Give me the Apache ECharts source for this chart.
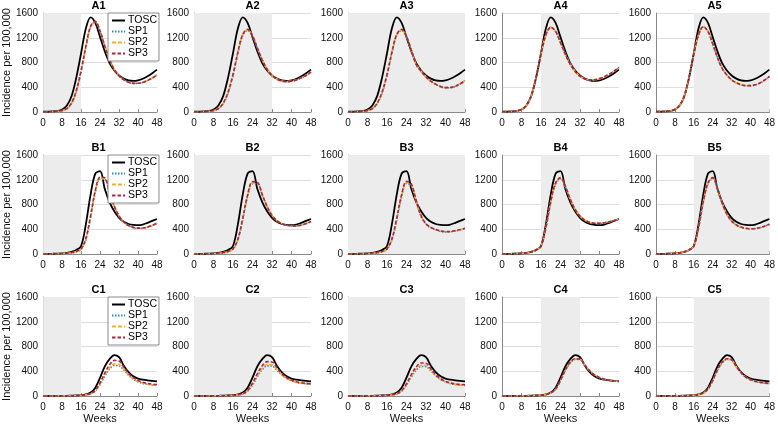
<!DOCTYPE html>
<html>
<head>
<meta charset="utf-8">
<script src="https://cdn.jsdelivr.net/npm/echarts@6/dist/echarts.min.js"></script>
<style>html,body{margin:0;padding:0;background:#fff}#c{width:778px;height:425px}</style>
</head>
<body>
<div id="c"></div>
<script>
// ---- data (weeks 0,2,...,48) ----
const weeks = [0,2,4,6,8,10,12,14,16,18,20,22,24,26,28,30,32,34,36,38,40,42,44,46,48];
const xTicks = [0,8,16,24,32,40,48];
const yTicks = [0,400,800,1200,1600];
const rowNames = ['A','B','C'];
const seriesNames = ['TOSC','SP1','SP2','SP3'];
const shadeRanges = [[0,16],[0,32],[0,48],[16,32],[16,48]];

const toscA = [5,6,9,17,40,105,260,560,950,1350,1530,1440,1210,980,790,670,590,540,510,502,512,538,578,628,685];
const toscB = [2,3,4,6,10,18,35,65,130,480,960,1300,1340,1050,840,690,585,520,485,470,466,476,503,535,566];
const toscC = [1,1,1,2,2,3,5,8,14,28,55,135,295,480,595,662,628,490,385,318,282,263,251,243,237];

const sp1A1 = [3,4,6,10,22,52,140,330,650,1040,1370,1450,1300,1060,845,685,585,520,480,462,463,478,507,548,598];
const sp2A1 = [3,4,6,10,22,55,145,340,660,1050,1380,1460,1310,1070,850,690,588,522,482,464,465,480,510,552,602];
const sp3A1 = [3,4,6,10,23,57,150,350,670,1060,1385,1465,1305,1065,848,688,586,521,481,463,464,479,509,550,600];

const sp1A2 = [3,4,6,10,22,52,135,310,590,950,1240,1320,1225,1030,840,690,592,532,500,490,498,518,550,590,640];
const sp2A2 = [3,4,6,10,22,54,140,320,600,960,1250,1330,1235,1035,842,692,594,533,500,491,500,520,553,594,645];
const sp3A2 = [3,4,6,10,23,56,143,325,605,965,1255,1335,1232,1033,841,691,593,532,500,490,499,519,552,592,643];

const sp1A3 = [3,4,6,10,22,52,135,310,590,950,1240,1320,1210,995,765,655,565,495,445,408,392,394,414,452,505];
const sp2A3 = [3,4,6,10,22,54,140,320,600,960,1250,1330,1220,1000,770,660,570,500,450,412,396,398,418,458,510];
const sp3A3 = [3,4,6,10,23,56,143,325,605,965,1255,1335,1218,998,768,658,568,498,448,410,394,396,416,455,508];

const sp1A4 = [5,6,9,17,40,105,260,560,930,1240,1365,1300,1120,930,770,655,578,535,518,520,538,568,608,658,718];
const sp2A4 = [5,6,9,17,40,105,260,560,932,1245,1372,1305,1125,935,774,658,581,538,521,523,541,571,612,662,722];
const sp3A4 = [5,6,9,17,40,105,260,560,931,1243,1370,1303,1122,932,772,656,580,536,520,522,540,570,610,660,720];

const sp1A5 = [5,6,9,17,40,105,260,560,930,1245,1375,1300,1100,880,705,595,518,470,440,425,424,438,468,515,572];
const sp2A5 = [5,6,9,17,40,105,260,560,932,1248,1380,1305,1105,884,708,598,521,473,443,428,427,441,472,519,577];
const sp3A5 = [5,6,9,17,40,105,260,560,931,1247,1378,1303,1103,882,707,597,520,472,442,427,426,440,470,517,575];

const sp1B1 = [1,2,3,4,7,11,20,38,78,230,585,990,1210,1205,980,770,610,515,457,427,415,417,432,458,495];
const sp2B1 = [1,2,3,4,7,12,21,40,82,240,600,1010,1225,1215,985,772,612,516,458,428,416,418,434,460,497];
const sp3B1 = [1,2,3,4,7,12,22,42,85,250,620,1030,1240,1230,990,775,615,518,460,430,418,420,436,463,500];

const sp1B2 = [1,2,3,4,7,11,20,38,78,225,550,925,1135,1135,950,765,622,539,491,465,454,455,467,491,523];
const sp2B2 = [1,2,3,4,7,12,21,40,82,232,565,940,1150,1145,955,768,624,540,492,466,455,455,468,492,525];
const sp3B2 = [1,2,3,4,7,12,22,42,85,240,580,960,1170,1160,960,770,625,540,492,466,455,455,468,492,525];

const sp1B3 = [1,2,3,4,7,11,20,38,78,225,550,925,1140,1105,845,605,480,422,389,366,356,359,372,389,409];
const sp2B3 = [1,2,3,4,7,12,21,40,82,232,565,940,1155,1115,850,612,485,426,392,369,359,362,375,392,412];
const sp3B3 = [1,2,3,4,7,12,22,42,85,240,580,960,1175,1130,860,620,490,430,395,372,362,365,378,395,415];

const sp1B4 = [2,3,4,6,10,18,35,65,127,420,830,1130,1215,1085,882,720,611,547,511,496,495,504,521,541,566];
const sp2B4 = [2,3,4,6,10,18,35,65,128,425,840,1140,1225,1090,884,722,612,548,512,497,496,505,522,542,567];
const sp3B4 = [2,3,4,6,10,18,35,65,128,430,850,1150,1235,1095,885,722,612,548,512,497,496,505,522,542,567];

const sp1B5 = [2,3,4,6,10,18,35,65,127,420,832,1135,1220,1055,818,640,530,466,431,411,404,408,423,448,477];
const sp2B5 = [2,3,4,6,10,18,35,65,128,425,842,1143,1228,1060,822,643,533,468,433,413,406,410,425,450,480];
const sp3B5 = [2,3,4,6,10,18,35,65,128,430,850,1150,1235,1065,825,645,535,470,435,415,408,412,427,452,482];

const sp1C1 = [1,1,1,1,2,2,3,5,9,18,33,80,185,320,435,492,488,418,336,271,230,204,188,177,170];
const sp2C1 = [1,1,1,1,2,2,4,6,10,19,35,85,195,340,458,518,510,428,341,276,234,208,192,182,176];
const sp3C1 = [1,1,1,1,2,2,4,6,10,20,38,92,215,372,505,575,565,468,366,296,250,222,203,192,186];

const sp1C2 = [1,1,1,1,2,2,3,5,9,18,33,78,180,315,428,487,484,416,340,281,244,221,206,197,192];
const sp2C2 = [1,1,1,1,2,2,4,6,10,19,35,83,190,332,448,510,504,426,345,285,247,223,208,199,194];
const sp3C2 = [1,1,1,1,2,2,4,6,10,20,38,90,207,360,488,555,550,460,364,299,257,231,215,205,200];

const sp1C3 = [1,1,1,1,2,2,3,5,9,18,33,78,176,308,418,476,475,406,325,265,226,201,186,178,172];
const sp2C3 = [1,1,1,1,2,2,4,6,10,19,35,82,186,324,438,496,494,416,330,268,228,203,188,180,176];
const sp3C3 = [1,1,1,1,2,2,4,6,10,20,38,88,200,348,470,534,530,442,348,282,238,211,195,187,183];

const sp1C4 = [1,1,1,2,2,3,5,8,14,25,47,108,245,410,532,590,588,497,405,338,296,270,254,243,236];
const sp2C4 = [1,1,1,2,2,3,5,8,14,26,48,111,250,417,539,596,592,498,406,339,297,271,255,244,237];
const sp3C4 = [1,1,1,2,2,3,5,8,14,26,49,113,255,424,546,602,596,500,408,340,298,272,256,245,238];

const sp1C5 = [1,1,1,2,2,3,5,8,14,25,47,108,245,410,532,590,578,470,374,302,260,234,218,207,199];
const sp2C5 = [1,1,1,2,2,3,5,8,14,26,48,111,250,417,539,596,582,473,376,304,262,236,220,210,202];
const sp3C5 = [1,1,1,2,2,3,5,8,14,26,49,113,255,424,546,602,586,476,378,306,264,238,222,212,205];

// ---- assembly ----
const toscRows = [toscA, toscB, toscC];
const spPanels = [
  [[sp1A1,sp2A1,sp3A1],[sp1A2,sp2A2,sp3A2],[sp1A3,sp2A3,sp3A3],[sp1A4,sp2A4,sp3A4],[sp1A5,sp2A5,sp3A5]],
  [[sp1B1,sp2B1,sp3B1],[sp1B2,sp2B2,sp3B2],[sp1B3,sp2B3,sp3B3],[sp1B4,sp2B4,sp3B4],[sp1B5,sp2B5,sp3B5]],
  [[sp1C1,sp2C1,sp3C1],[sp1C2,sp2C2,sp3C2],[sp1C3,sp2C3,sp3C3],[sp1C4,sp2C4,sp3C4],[sp1C5,sp2C5,sp3C5]]
];

const FONT = '"Liberation Sans", Arial, Helvetica, sans-serif';
const colors = ['#000000','#2f86cc','#f2ae2e','#b0263e'];
const lineStyles = [
  {width:1.8, type:'solid'},
  {width:1.6, type:[1.5,1.5]},
  {width:1.6, type:[4,2]},
  {width:1.6, type:[3.5,2]}
];
const PL = 40, PDX = 154, PW = 117, PT = 13, PDY = 142, PH = 99;

const grids = [], xAxes = [], yAxes = [], series = [], graphics = [], legends = [];
for (let r = 0; r < 3; r++) {
  for (let c = 0; c < 5; c++) {
    const idx = r*5 + c;
    const left = PL + c*PDX, top = PT + r*PDY;
    grids.push({left:left, top:top, width:PW, height:PH});
    xAxes.push({
      type:'value', gridIndex:idx, min:xTicks[0], max:xTicks[xTicks.length-1], interval:xTicks[1]-xTicks[0],
      axisLine:{show:true, lineStyle:{color:'#8a8a8a', width:1}},
      axisTick:{show:true, inside:true, length:3, lineStyle:{color:'#8a8a8a'}},
      axisLabel:{fontSize:10, color:'#111', margin:6, fontFamily:FONT, formatter:v => String(v)},
      splitLine:{show:false},
      name: r===2 ? 'Weeks' : '', nameLocation:'middle', nameGap:17,
      nameTextStyle:{fontSize:11, color:'#111', fontFamily:FONT}
    });
    yAxes.push({
      type:'value', gridIndex:idx, min:yTicks[0], max:yTicks[yTicks.length-1], interval:yTicks[1]-yTicks[0],
      axisLine:{show:true, lineStyle:{color:'#8a8a8a', width:1}},
      axisTick:{show:false},
      axisLabel:{fontSize:10, color:'#111', margin:5, fontFamily:FONT, formatter:v => String(v)},
      splitLine:{show:true, lineStyle:{color:'#dedede', width:1}},
      name: c===0 ? 'Incidence per 100,000' : '', nameLocation:'middle', nameGap:29,
      nameTextStyle:{fontSize:11, color:'#111', fontFamily:FONT}
    });
    const sets = [toscRows[r]].concat(spPanels[r][c]);
    sets.forEach((arr, k) => {
      const s = {
        type:'line', name:seriesNames[k], xAxisIndex:idx, yAxisIndex:idx,
        data: weeks.map((w,i) => [w, arr[i]]),
        symbol:'none', smooth:0.35, color:colors[k],
        lineStyle:Object.assign({color:colors[k]}, lineStyles[k]),
        z: 3 + k, animation:false
      };
      if (k === 0) {
        s.markArea = {silent:true, itemStyle:{color:'#ececec'},
          data:[[{xAxis:shadeRanges[c][0]},{xAxis:shadeRanges[c][1]}]]};
      }
      series.push(s);
    });
    graphics.push({type:'text', x:left + PW/2, y:top - 13,
      style:{text:rowNames[r] + (c+1), font:'bold 11px ' + FONT, fill:'#000', textAlign:'center', textVerticalAlign:'top'}});
  }
  legends.push({
    orient:'vertical', left:108, top:PT + r*PDY,
    data:seriesNames, itemWidth:13, itemHeight:8, itemGap:0,
    padding:[2,2,2,3], backgroundColor:'#fff', borderColor:'#8a8a8a', borderWidth:1,
    itemStyle:{color:'transparent', borderColor:'transparent', borderWidth:0, opacity:0},
    textStyle:{fontSize:10.5, color:'#000', fontFamily:FONT, padding:[0,0,0,-2], lineHeight:10.5},
    selectedMode:false, z:20
  });
}

const chart = echarts.init(document.getElementById('c'), null, {renderer:'canvas'});
chart.setOption({
  animation:false,
  textStyle:{fontFamily:FONT},
  grid:grids, xAxis:xAxes, yAxis:yAxes, series:series,
  legend:legends, graphic:graphics
});
</script>
</body>
</html>
